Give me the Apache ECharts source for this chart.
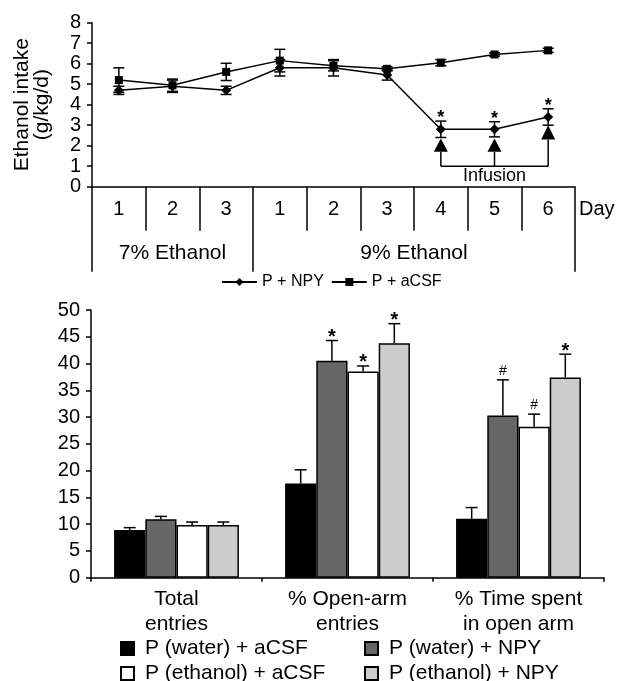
<!DOCTYPE html>
<html><head><meta charset="utf-8">
<script src="https://cdn.jsdelivr.net/npm/echarts@6/dist/echarts.min.js"></script>
<style>html,body{margin:0;padding:0;background:#fff}#c{width:619px;height:681px}</style>
</head><body><div id="c"></div><script>
const FONT = '"Liberation Sans", Arial, Helvetica, sans-serif';

// ---- Top panel: ethanol intake by day ----
const dayLabels = ['1','2','3','1','2','3','4','5','6'];
const phaseLabels = ['7% Ethanol','9% Ethanol'];
const phaseBounds = [0, 3, 9];
const npy     = [4.7, 4.9, 4.7, 5.8, 5.8, 5.45, 2.8, 2.8, 3.4];
const npyErr  = [0.2, 0.3, 0.2, 0.4, 0.4, 0.25, 0.4, 0.37, 0.4];
const acsf    = [5.2, 4.95, 5.6, 6.15, 5.9, 5.75, 6.05, 6.45, 6.65];
const acsfErr = [0.6, 0.3, 0.42, 0.55, 0.25, 0.1, 0.15, 0.08, 0.1];
const starDays = [6, 7, 8];
const infusionDays = [6, 7, 8];
const arrowBase = [1.7, 1.7, 2.3];
const arrowTip  = [2.35, 2.35, 3.0];
const infusionLevel = 1.0;
const infusionText = 'Infusion';
const infusionTextY = 0.5;

// ---- Bottom panel: elevated plus maze ----
const barCategories = ['Total\nentries', '% Open-arm\nentries', '% Time spent\nin open arm'];
const barGroups = ['P (water) + aCSF', 'P (water) + NPY', 'P (ethanol) + aCSF', 'P (ethanol) + NPY'];
const barColors = ['#000000', '#666666', '#ffffff', '#cccccc'];
const waterACSF    = [8.9, 17.6, 11.0];
const waterACSFErr = [0.45, 2.55, 2.1];
const waterNPY     = [10.9, 40.5, 30.3];
const waterNPYErr  = [0.55, 3.8, 6.65];
const ethACSF      = [9.85, 38.5, 28.2];
const ethACSFErr   = [0.55, 1.05, 2.35];
const ethNPY       = [9.85, 43.8, 37.4];
const ethNPYErr    = [0.55, 3.65, 4.35];
const barMarks = [['', '', ''], ['', '*', '#'], ['', '*', '#'], ['', '*', '*']]; // per group, per category

const barValues = [waterACSF, waterNPY, ethACSF, ethNPY];
const barErrs = [waterACSFErr, waterNPYErr, ethACSFErr, ethNPYErr];
const CAT_GAP = 0.27;

function markText(ch, x, capY) {
  if (ch === '#') {
    return {type: 'text', x: x, y: capY - 8.5, style: {text: '#', fontSize: 14, fontFamily: FONT, fill: '#000', align: 'center', verticalAlign: 'middle'}};
  }
  return {type: 'text', x: x, y: capY - 3, style: {text: '*', fontSize: 20, fontWeight: 'bold', fontFamily: FONT, fill: '#000', align: 'center', verticalAlign: 'middle'}};
}

const topErrRows = [];
npy.forEach((v, i) => topErrRows.push([i, v, npyErr[i]]));
acsf.forEach((v, i) => topErrRows.push([i, v, acsfErr[i]]));

const barRows = [];
barValues.forEach((vals, b) => vals.forEach((v, c) => barRows.push({c: c, b: b, v: v, top: v + barErrs[b][c], mark: barMarks[b][c]})));

const LINE = {color: '#000', width: 1.5};
const axisText = {color: '#000', fontFamily: FONT};

// one legend per bar group, laid out in two columns
const legendPos = [[120, 638], [364, 638], [120, 663], [364, 663]];
const barLegends = barGroups.map((g, b) => ({
  data: [g], icon: 'rect', left: legendPos[b][0], top: legendPos[b][1], padding: 0,
  itemWidth: 13, itemHeight: 13,
  textStyle: {fontSize: 21, color: '#000', fontFamily: FONT, padding: [0, 0, 0, 6]}
}));

const option = {
  animation: false,
  backgroundColor: '#fff',
  textStyle: {fontFamily: FONT, color: '#000'},
  grid: [
    {left: 92, right: 44, top: 22.7, bottom: 494.3, containLabel: false},
    {left: 91, right: 15, top: 310, bottom: 103.3, containLabel: false}
  ],
  legend: [
    {data: ['P + NPY', 'P + aCSF'], left: 221, top: 274, padding: 0, itemWidth: 35, itemHeight: 10, itemGap: 7,
     textStyle: {fontSize: 16, color: '#000', fontFamily: FONT}}
  ].concat(barLegends),
  xAxis: [
    {type: 'category', gridIndex: 0, data: dayLabels, boundaryGap: true,
     axisLine: {show: true, lineStyle: LINE},
     axisTick: {show: true, interval: 0, length: 44, lineStyle: LINE},
     axisLabel: Object.assign({interval: 0, fontSize: 20, margin: 13}, axisText),
     name: 'Day', nameLocation: 'end', nameGap: 4,
     nameTextStyle: {fontSize: 20, color: '#000', fontFamily: FONT, verticalAlign: 'top', padding: [13, 0, 0, 0]}},
    {type: 'value', gridIndex: 0, min: phaseBounds[0], max: phaseBounds[phaseBounds.length - 1], position: 'bottom',
     axisLine: {show: false}, splitLine: {show: false},
     axisTick: {show: true, length: 85, lineStyle: LINE, customValues: phaseBounds},
     axisLabel: Object.assign({fontSize: 21, margin: 56,
       customValues: phaseLabels.map((_, i) => (phaseBounds[i] + phaseBounds[i + 1]) / 2),
       formatter: function (v) { for (let i = 0; i < phaseLabels.length; i++) { if (Math.abs((phaseBounds[i] + phaseBounds[i + 1]) / 2 - v) < 1e-6) return phaseLabels[i]; } return ''; }
     }, axisText)},
    {type: 'category', gridIndex: 1, data: barCategories, boundaryGap: true,
     axisLine: {show: true, lineStyle: LINE},
     axisTick: {show: true, interval: 0, length: 4, lineStyle: LINE},
     axisLabel: Object.assign({interval: 0, fontSize: 21, lineHeight: 25, margin: 9}, axisText)}
  ],
  yAxis: [
    {type: 'value', gridIndex: 0, min: 0, max: 8, interval: 1,
     axisLine: {show: true, lineStyle: LINE}, splitLine: {show: false},
     axisTick: {show: true, length: 5, lineStyle: LINE},
     axisLabel: Object.assign({fontSize: 20, lineHeight: 16, margin: 11, showMinLabel: true, showMaxLabel: true, hideOverlap: false}, axisText),
     name: 'Ethanol intake\n(g/kg/d)', nameLocation: 'middle', nameGap: 40, nameRotate: 90,
     nameTextStyle: {fontSize: 21, lineHeight: 20, color: '#000', fontFamily: FONT}},
    {type: 'value', gridIndex: 1, min: 0, max: 50, interval: 5,
     axisLine: {show: true, lineStyle: LINE}, splitLine: {show: false},
     axisTick: {show: true, length: 5, lineStyle: LINE},
     axisLabel: Object.assign({fontSize: 20, margin: 11, showMinLabel: true, showMaxLabel: true}, axisText)}
  ],
  series: [
    {name: 'P + NPY', type: 'line', xAxisIndex: 0, yAxisIndex: 0, data: npy, symbol: 'diamond', symbolSize: 10,
     itemStyle: {color: '#000'}, lineStyle: {color: '#000', width: 1.5}, z: 4},
    {name: 'P + aCSF', type: 'line', xAxisIndex: 0, yAxisIndex: 0, data: acsf, symbol: 'rect', symbolSize: 8,
     itemStyle: {color: '#000'}, lineStyle: {color: '#000', width: 1.5}, z: 4},
    {type: 'custom', name: 'topErr', xAxisIndex: 0, yAxisIndex: 0, data: topErrRows, encode: {x: 0, y: 1}, z: 3,
     renderItem: function (params, api) {
       const x = api.coord([api.value(0), api.value(1)])[0];
       const lo = api.coord([api.value(0), api.value(1) - api.value(2)])[1];
       const hi = api.coord([api.value(0), api.value(1) + api.value(2)])[1];
       const st = {stroke: '#000', lineWidth: 1.5};
       return {type: 'group', children: [
         {type: 'line', shape: {x1: x, y1: lo, x2: x, y2: hi}, style: st},
         {type: 'line', shape: {x1: x - 5.5, y1: lo, x2: x + 5.5, y2: lo}, style: st},
         {type: 'line', shape: {x1: x - 5.5, y1: hi, x2: x + 5.5, y2: hi}, style: st}
       ]};
     }},
    {type: 'custom', name: 'topStars', xAxisIndex: 0, yAxisIndex: 0,
     data: starDays.map(d => [d, npy[d] + npyErr[d]]), encode: {x: 0, y: 1}, z: 5,
     renderItem: function (params, api) {
       const p = api.coord([api.value(0), api.value(1)]);
       return {type: 'text', x: p[0], y: p[1] - 3, style: {text: '*', fontSize: 18, fontWeight: 'bold', fontFamily: FONT, fill: '#000', align: 'center', verticalAlign: 'middle'}};
     }},
    {type: 'line', name: 'bracket', xAxisIndex: 0, yAxisIndex: 0, symbol: 'none', silent: true,
     data: [[infusionDays[0], infusionLevel], [infusionDays[infusionDays.length - 1], infusionLevel]],
     lineStyle: {color: '#000', width: 1.5}},
    {type: 'custom', name: 'arrows', xAxisIndex: 0, yAxisIndex: 0,
     data: infusionDays.map((d, i) => [d, arrowBase[i], arrowTip[i]]), encode: {x: 0, y: 2}, z: 3,
     renderItem: function (params, api) {
       const d = api.value(0);
       const x = api.coord([d, 0])[0];
       const yl = api.coord([d, infusionLevel])[1];
       const yb = api.coord([d, api.value(1)])[1];
       const yt = api.coord([d, api.value(2)])[1];
       return {type: 'group', children: [
         {type: 'line', shape: {x1: x, y1: yl, x2: x, y2: yb}, style: {stroke: '#000', lineWidth: 1.5}},
         {type: 'polygon', shape: {points: [[x - 7, yb], [x + 7, yb], [x, yt]]}, style: {fill: '#000'}}
       ]};
     }},
    {type: 'custom', name: 'infusionText', xAxisIndex: 0, yAxisIndex: 0,
     data: [[infusionDays[1], infusionTextY]], encode: {x: 0, y: 1},
     renderItem: function (params, api) {
       const p = api.coord([api.value(0), api.value(1)]);
       return {type: 'text', x: p[0], y: p[1], style: {text: infusionText, fontSize: 18, fontFamily: FONT, fill: '#000', align: 'center', verticalAlign: 'middle'}};
     }},
    ...barGroups.map((g, b) => ({
      name: g, type: 'bar', xAxisIndex: 2, yAxisIndex: 1, data: barValues[b],
      barGap: '0%', barCategoryGap: (CAT_GAP * 100) + '%',
      itemStyle: {color: barColors[b], borderColor: '#000', borderWidth: 1.5}
    })),
    {type: 'custom', name: 'barErr', xAxisIndex: 2, yAxisIndex: 1,
     data: barRows.map(r => [r.c, r.top]), encode: {x: 0, y: 1}, z: 5,
     renderItem: function (params, api) {
       const r = barRows[params.dataIndex];
       const bandW = api.size([1, 0])[0];
       const barW = bandW * (1 - CAT_GAP) / barGroups.length;
       const x = api.coord([r.c, 0])[0] + (r.b - (barGroups.length - 1) / 2) * barW;
       const yv = api.coord([r.c, r.v])[1];
       const yt = api.coord([r.c, r.top])[1];
       const st = {stroke: '#000', lineWidth: 1.5};
       const ch = [
         {type: 'line', shape: {x1: x, y1: yv, x2: x, y2: yt}, style: st},
         {type: 'line', shape: {x1: x - 6, y1: yt, x2: x + 6, y2: yt}, style: st}
       ];
       if (r.mark) ch.push(markText(r.mark, x, yt));
       return {type: 'group', children: ch};
     }}
  ]
};

const chart = echarts.init(document.getElementById('c'));
chart.setOption(option);
</script></body></html>
